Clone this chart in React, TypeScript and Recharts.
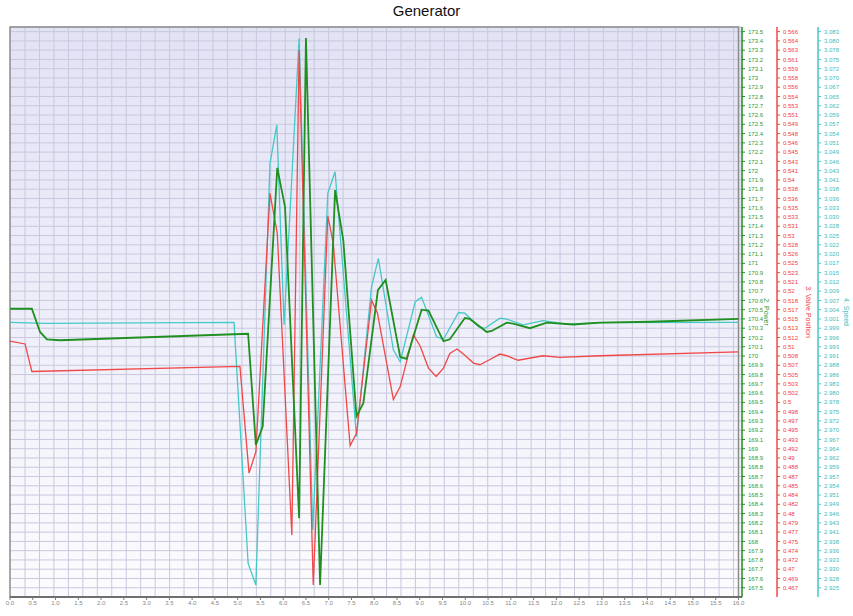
import { LineChart, Line, XAxis, YAxis, CartesianGrid, ReferenceArea } from 'recharts';

// time axis (s)
const timeTicks = [
  0, 0.5, 1, 1.5, 2, 2.5, 3, 3.5, 4, 4.5, 5, 5.5, 6, 6.5, 7, 7.5, 8,
  8.5, 9, 9.5, 10, 10.5, 11, 11.5, 12, 12.5, 13, 13.5, 14, 14.5, 15, 15.5, 16,
];

// 2: Power
const powerTime = [
  0, 0.48, 0.66, 0.81, 1.1, 5.23, 5.4, 5.55, 5.87, 6.04, 6.35, 6.5, 6.81, 7.14, 7.32, 7.61, 7.76,
  8.08, 8.25, 8.57, 8.71, 9.04, 9.19, 9.52, 9.66, 9.99, 10.1, 10.47, 10.58, 10.91, 11.05, 11.42,
  11.79, 12.37, 12.96, 14.06, 16,
];
const powerValue = [
  170.51, 170.51, 170.26, 170.18, 170.17, 170.24, 169.04, 169.24, 172.03, 171.61, 168.25, 173.43,
  167.53, 171.79, 171.25, 169.35, 169.49, 170.71, 170.82, 169.99, 169.97, 170.5, 170.49, 170.16,
  170.18, 170.41, 170.4, 170.26, 170.27, 170.36, 170.35, 170.3, 170.36, 170.34, 170.36, 170.37, 170.4,
];

// 3: Valve Position
const valveTime = [
  0, 0.33, 0.48, 5.05, 5.25, 5.4, 5.71, 5.87, 6.19, 6.35, 6.66, 6.98, 7.1, 7.47, 7.61, 7.94, 8.07,
  8.42, 8.57, 8.86, 9.01, 9.19, 9.36, 9.52, 9.66, 9.82, 9.99, 10.18, 10.32, 10.51, 10.76, 10.91,
  11.16, 11.71, 12.08, 12.96, 16,
];
const valveValue = [
  0.5109, 0.5104, 0.5055, 0.5064, 0.4874, 0.4912, 0.5372, 0.5301, 0.4764, 0.5627, 0.4675, 0.5332,
  0.5283, 0.4923, 0.4945, 0.5182, 0.5159, 0.5005, 0.5028, 0.512, 0.51, 0.5061, 0.5046, 0.5061,
  0.5087, 0.5095, 0.5084, 0.507, 0.5067, 0.5075, 0.5086, 0.5083, 0.5075, 0.5083, 0.508, 0.5083, 0.509,
];

// 4: Speed
const speedTime = [
  0, 0.77, 4.92, 5.23, 5.4, 5.71, 5.86, 6.02, 6.35, 6.65, 6.98, 7.14, 7.61, 7.94, 8.09, 8.42, 8.57,
  8.9, 9.04, 9.37, 9.52, 9.85, 9.99, 10.29, 10.43, 10.76, 10.91, 11.27, 11.71, 12.23, 12.96, 16,
];
const speedValue = [
  3.0004, 3.0001, 3.0004, 2.9319, 2.9258, 3.0456, 3.0565, 2.9997, 3.0811, 2.9414, 3.0371, 3.0432,
  2.9679, 3.0105, 3.0186, 2.9926, 2.9892, 3.0063, 3.0075, 2.9963, 2.9956, 3.0032, 3.003, 2.9992,
  2.9987, 3.0016, 3.0013, 2.9997, 3.0009, 2.9999, 3.0003, 3.0004,
];

// right axis scales: first tick, step, 60 steps each
const powerMin = 167.5, powerStep = 0.1;
const valveMin = 0.467, valveStep = 0.00165;
const speedMin = 2.925, speedStep = 0.0026333;

const makeTicks = (min: number, step: number) => Array.from({ length: 61 }, (_, i) => min + i * step);
const powerTicks = makeTicks(powerMin, powerStep);
const valveTicks = makeTicks(valveMin, valveStep);
const speedTicks = makeTicks(speedMin, speedStep);

const powerData = powerTime.map((t, i) => ({ t, v: powerValue[i] }));
const valveData = valveTime.map((t, i) => ({ t, v: valveValue[i] }));
const speedData = speedTime.map((t, i) => ({ t, v: speedValue[i] }));

const GREEN = '#1f8f1f';
const RED = '#f04848';
const CYAN = '#45c8c8';
const FONT = '"Liberation Sans", Arial, sans-serif';

// vertical grid runs on its own pixel spacing in the original
const gridX = Array.from({ length: 50 }, (_, i) => 25 + i * 14.46);

// axis ids sort in the order the axes stack outward
const AX_POWER = 'ax2';
const AX_VALVE = 'ax3';
const AX_SPEED = 'ax4';

export default function App() {
  return (
    <div style={{ position: 'absolute', left: 0, top: 0, width: 853, height: 616, background: '#fff', fontFamily: FONT }}>
      <div style={{ position: 'absolute', left: 0, top: 2, width: 853, textAlign: 'center', fontSize: 15, color: '#111' }}>
        Generator
      </div>
      <LineChart width={853} height={616} margin={{ top: 27, right: 0, bottom: 0, left: 10 }}>
        <defs>
          <linearGradient id="bg" x1="0" y1="0" x2="0" y2="1">
            <stop offset="0%" stopColor="#e2e2f5" />
            <stop offset="50%" stopColor="#eeeefa" />
            <stop offset="100%" stopColor="#fcfcfe" />
          </linearGradient>
        </defs>
        <CartesianGrid
          yAxisId={AX_POWER}
          verticalPoints={gridX}
          stroke="#c8c8de"
          strokeWidth={1}
          fill="url(#bg)"
          fillOpacity={1}
        />
        <XAxis
          dataKey="t"
          type="number"
          domain={[0, 16]}
          ticks={timeTicks}
          interval={0}
          allowDataOverflow
          padding={{ left: 0, right: 3.5 }}
          height={19}
          tickSize={3}
          tickMargin={1}
          tickFormatter={(v: number) => v.toFixed(1)}
          tick={{ fontSize: 6, fill: '#888', fontFamily: FONT }}
          stroke="#777"
          axisLine={{ stroke: '#6e6e6e', strokeWidth: 2 }}
        />
        <YAxis
          yAxisId={AX_POWER}
          orientation="right"
          domain={[167.4, 173.55]}
          ticks={powerTicks}
          interval={0}
          allowDataOverflow
          width={35}
          tickSize={3}
          tickMargin={3}
          tickFormatter={(v: number) => String(parseFloat(v.toFixed(1)))}
          tick={{ fontSize: 6, fill: '#2f9a2f', fontFamily: FONT }}
          stroke={GREEN}
          axisLine={{ stroke: GREEN, strokeWidth: 1.5 }}
          label={{ value: '2: Power', angle: 90, position: 'center', dx: 7, fill: '#2f9a2f', fontSize: 7, fontFamily: FONT }}
        />
        <YAxis
          yAxisId={AX_VALVE}
          orientation="right"
          domain={[valveMin - valveStep, valveMin + 60.5 * valveStep]}
          ticks={valveTicks}
          interval={0}
          allowDataOverflow
          width={41}
          tickSize={3}
          tickMargin={3}
          tickFormatter={(v: number) => String(parseFloat(v.toFixed(3)))}
          tick={{ fontSize: 6, fill: '#f04040', fontFamily: FONT }}
          stroke={RED}
          axisLine={{ stroke: RED, strokeWidth: 1.5 }}
          label={{ value: '3: Valve Position', angle: 90, position: 'center', dx: 11, fill: '#f04040', fontSize: 7, fontFamily: FONT }}
        />
        <YAxis
          yAxisId={AX_SPEED}
          orientation="right"
          domain={[speedMin - speedStep, speedMin + 60.5 * speedStep]}
          ticks={speedTicks}
          interval={0}
          allowDataOverflow
          width={35}
          tickSize={3}
          tickMargin={3}
          tickFormatter={(v: number) => v.toFixed(3)}
          tick={{ fontSize: 6, fill: '#3cbcbc', fontFamily: FONT }}
          stroke={CYAN}
          axisLine={{ stroke: CYAN, strokeWidth: 1.5 }}
          label={{ value: '4: Speed', angle: 90, position: 'center', dx: 11, fill: '#3cbcbc', fontSize: 7, fontFamily: FONT }}
        />
        <ReferenceArea
          yAxisId={AX_POWER}
          x1={0}
          x2={16}
          fill="none"
          stroke="#8c8c8c"
          strokeWidth={1.5}
          ifOverflow="visible"
        />
        <Line
          data={speedData}
          yAxisId={AX_SPEED}
          dataKey="v"
          type="linear"
          stroke={CYAN}
          strokeWidth={1.3}
          dot={false}
          activeDot={false}
          isAnimationActive={false}
        />
        <Line
          data={valveData}
          yAxisId={AX_VALVE}
          dataKey="v"
          type="linear"
          stroke={RED}
          strokeWidth={1.3}
          dot={false}
          activeDot={false}
          isAnimationActive={false}
        />
        <Line
          data={powerData}
          yAxisId={AX_POWER}
          dataKey="v"
          type="linear"
          stroke={GREEN}
          strokeWidth={1.8}
          dot={false}
          activeDot={false}
          isAnimationActive={false}
        />
      </LineChart>
    </div>
  );
}
